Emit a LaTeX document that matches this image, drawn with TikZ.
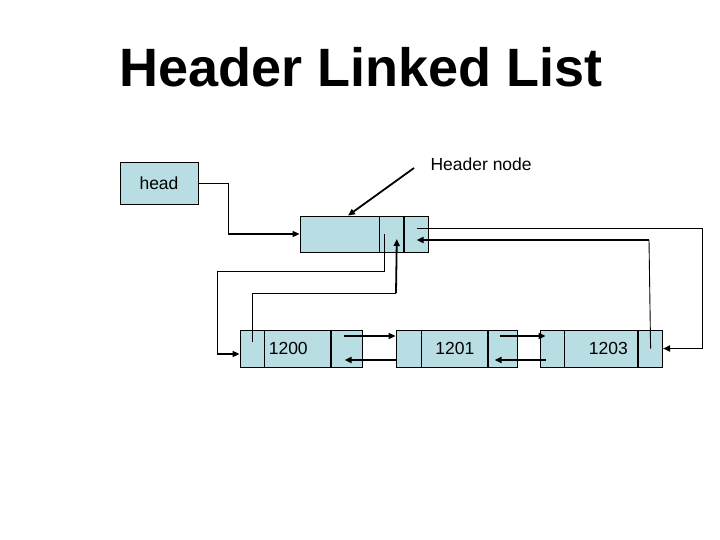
\documentclass[tikz,border=0pt]{standalone}
\usepackage{fontspec}
\setmainfont{Liberation Sans}
\usepackage{tikz}
\usetikzlibrary{arrows.meta}
\definecolor{cellblue}{RGB}{184,222,228}

\begin{document}
\begin{tikzpicture}[x=1pt, y=-1pt, font=\fontsize{17.5}{20}\selectfont,
  cell/.style={draw, fill=cellblue, minimum height=37pt, inner sep=0pt, line width=0.8pt},
  link/.style={line width=0.9pt},
  tip/.style={line width=1.8pt, -{Triangle[length=7pt,width=6pt]}}]
  \useasboundingbox (0,0) rectangle (720,540);
  \node [anchor=base] (title) at (361,87) {\fontsize{54}{60}\selectfont\bfseries Header Linked List}; % titulo
  \node [cell, minimum width=78pt, minimum height=42pt] (head) at (159,183) {head};
  % nodo cabecera
  \node [cell, minimum width=79pt, minimum height=36pt] (hd1) at (339.5,234) {};
  \node [cell, minimum width=24pt, minimum height=36pt, anchor=west] (hd2) at (hd1.east) {};
  \node [cell, minimum width=24pt, minimum height=36pt, anchor=west] (hd3) at (hd2.east) {};
  \node [anchor=base west] (hnlabel) at (427,170.7) {Header node};
  % nodo 1200
  \node [cell, minimum width=24pt] (a1) at (252,348.5) {};
  \node [cell, minimum width=66pt, anchor=west, text width=58pt, inner xsep=4pt, align=left] (a2) at (a1.east) {1200};
  \node [cell, minimum width=31pt, anchor=west] (a3) at (a2.east) {};
  % nodo 1201
  \node [cell, minimum width=25pt] (b1) at (408.5,348.5) {};
  \node [cell, minimum width=66pt, anchor=west] (b2) at (b1.east) {1201};
  \node [cell, minimum width=29pt, anchor=west] (b3) at (b2.east) {};
  % nodo 1203
  \node [cell, minimum width=24pt] (c1) at (552,348.5) {};
  \node [cell, minimum width=73pt, anchor=west, text width=53pt, inner xsep=5pt, align=right] (c2) at (c1.east) {1203};
  \node [cell, minimum width=24pt, anchor=west] (c3) at (c2.east) {};
  % puntos de quiebre
  \coordinate (hnptr) at (414,168);
  \coordinate (bendA) at (228,234);
  \coordinate (bendB) at (217,354);
  \coordinate (bendC) at (396,293);
  \coordinate (bendD) at (702,348.5);
  \coordinate (bendE) at (649,240);
  \draw [tip] (hnptr) -- ([xshift=8.5]hd1.north); % flecha a la cabecera
  \draw [link] (head.east) -| (bendA);
  \draw [tip] (bendA) -- (hd1.west); % head -> cabecera
  \draw [link] ([xshift=-7]hd2.center) -- ++(0,37) -| (bendB);
  \draw [tip] (bendB) -- (bendB -| a1.west); % cabecera -> 1200
  \draw [link] ([yshift=6.5]a1.center) |- (bendC);
  \draw [tip] (bendC) -- ([xshift=5,yshift=-5]hd2.center); % 1200 -> cabecera
  \draw [link] ([yshift=6]hd3.center) -| (bendD);
  \draw [tip] (bendD) -- (c3.east); % cabecera -> 1203
  \draw [link] (c3.center) -- (bendE);
  \draw [tip] (bendE) -- ([yshift=-6]hd3.center); % 1203 -> cabecera
  \draw [tip] ([xshift=-3.5,yshift=12.5]a3.center) -- ([yshift=12.5]b1.west);
  \draw [tip] ([yshift=-11.5]b1.west) -- ([xshift=-2.5,yshift=-11.5]a3.center);
  \draw [tip] ([xshift=-3.5,yshift=12.5]b3.center) -- ([xshift=6,yshift=12.5]c1.west);
  \draw [tip] ([xshift=6,yshift=-11.5]c1.west) -- ([xshift=-8.5,yshift=-11.5]b3.center);
\end{tikzpicture}
\end{document}
